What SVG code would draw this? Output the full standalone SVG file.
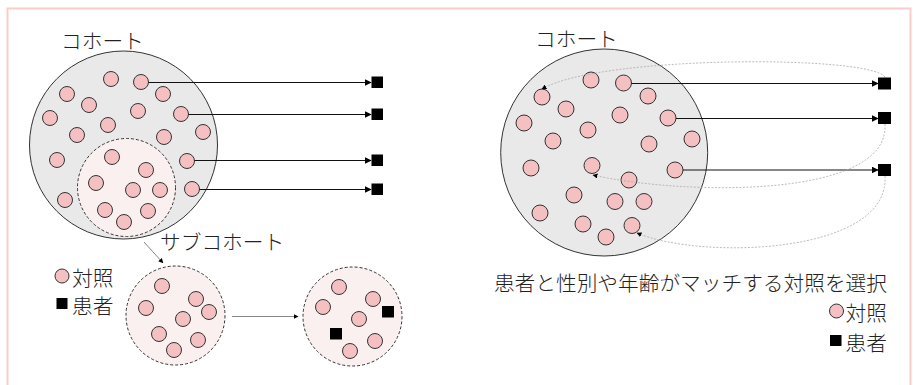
<svg xmlns="http://www.w3.org/2000/svg" width="913" height="385" viewBox="0 0 913 385">
<style>
.pt{fill:#f4c0c2;stroke:#333;stroke-width:1}
.big{fill:#e9e9e9;stroke:#333;stroke-width:1}
.sub{fill:#fbf0f0;stroke:#333;stroke-width:1;stroke-dasharray:3 2}
.pa{fill:#000}
.t{font-family:"Noto Sans CJK JP","Noto Sans",sans-serif;font-size:20.7px;font-weight:300;fill:#222}
.ln{fill:none;stroke:#111;stroke-width:1}
.gl{fill:none;stroke:#888;stroke-width:1}
.dl{fill:none;stroke:#aaa;stroke-width:0.8;stroke-dasharray:2 1.5}
</style>
<defs>
<marker id="ah" viewBox="0 0 10 10" refX="9" refY="5" markerWidth="7" markerHeight="7" markerUnits="userSpaceOnUse" orient="auto">
<path d="M0,0 L10,5 L0,10 z" fill="#000"/>
</marker>
<marker id="ahs" viewBox="0 0 10 10" refX="9" refY="5" markerWidth="5" markerHeight="5" markerUnits="userSpaceOnUse" orient="auto">
<path d="M0,0 L10,5 L0,10 z" fill="#000"/>
</marker>
</defs>
<rect x="7.5" y="8.5" width="903" height="385" fill="#fff" stroke="#f8cecc" stroke-width="2"/>

<g id="cohort-left">
<text class="t" x="61" y="49">コホート</text>
<circle class="big" cx="123.5" cy="145" r="94"/>
<circle class="pt" cx="111" cy="79" r="7.5"/>
<circle class="pt" cx="141" cy="82" r="7.5"/>
<circle class="pt" cx="67" cy="94" r="7.5"/>
<circle class="pt" cx="163" cy="94" r="7.5"/>
<circle class="pt" cx="89" cy="105" r="7.5"/>
<circle class="pt" cx="138" cy="111" r="7.5"/>
<circle class="pt" cx="181" cy="114" r="7.5"/>
<circle class="pt" cx="50" cy="118" r="7.5"/>
<circle class="pt" cx="108" cy="125" r="7.5"/>
<circle class="pt" cx="77" cy="135" r="7.5"/>
<circle class="pt" cx="164" cy="137" r="7.5"/>
<circle class="pt" cx="203" cy="132" r="7.5"/>
<circle class="pt" cx="57" cy="160" r="7.5"/>
<circle class="pt" cx="187" cy="161" r="7.5"/>
<circle class="pt" cx="65" cy="200" r="7.5"/>
<circle class="pt" cx="192" cy="189" r="7.5"/>
</g>
<g id="subcohort-in-left">
<circle class="sub" cx="126.5" cy="187.5" r="49"/>
<circle class="pt" cx="112" cy="157" r="7.5"/>
<circle class="pt" cx="146" cy="170" r="7.5"/>
<circle class="pt" cx="96" cy="183" r="7.5"/>
<circle class="pt" cx="133" cy="190" r="7.5"/>
<circle class="pt" cx="160" cy="190" r="7.5"/>
<circle class="pt" cx="105" cy="210" r="7.5"/>
<circle class="pt" cx="148" cy="211" r="7.5"/>
<circle class="pt" cx="124" cy="222" r="7.5"/>
</g>
<g id="patients-left">
<rect class="pa" x="371.5" y="76.5" width="11.5" height="11.5"/>
<rect class="pa" x="371.5" y="108.5" width="11.5" height="11.5"/>
<rect class="pa" x="371.5" y="154.5" width="11.5" height="11.5"/>
<rect class="pa" x="371.5" y="183.5" width="11.5" height="11.5"/>
</g>
<g id="label-subcohort">
<text class="t" x="160" y="250">サブコホート</text>
</g>
<g id="legend-left">
<circle class="pt" cx="62" cy="276" r="7"/>
<text class="t" x="72" y="286">対照</text>
<rect class="pa" x="56.5" y="298" width="11" height="11"/>
<text class="t" x="72" y="314">患者</text>
</g>
<g id="subcohort-a">
<circle class="sub" cx="175.5" cy="315.5" r="49.5"/>
<circle class="pt" cx="162" cy="286" r="7.5"/>
<circle class="pt" cx="196" cy="299" r="7.5"/>
<circle class="pt" cx="146" cy="308" r="7.5"/>
<circle class="pt" cx="209" cy="312" r="7.5"/>
<circle class="pt" cx="183" cy="319" r="7.5"/>
<circle class="pt" cx="159" cy="334" r="7.5"/>
<circle class="pt" cx="198" cy="340" r="7.5"/>
<circle class="pt" cx="174" cy="350" r="7.5"/>
</g>
<g id="subcohort-b">
<circle class="sub" cx="352.5" cy="316.5" r="49.5"/>
<circle class="pt" cx="339" cy="287" r="7.5"/>
<circle class="pt" cx="373" cy="299" r="7.5"/>
<circle class="pt" cx="323" cy="307" r="7.5"/>
<circle class="pt" cx="359" cy="319" r="7.5"/>
<circle class="pt" cx="375" cy="341" r="7.5"/>
<circle class="pt" cx="350" cy="351" r="7.5"/>
<rect class="pa" x="382" y="306" width="12" height="11.5"/>
<rect class="pa" x="330" y="328" width="12" height="11.5"/>
</g>

<g id="cohort-right">
<text class="t" x="535" y="47">コホート</text>
<circle class="big" cx="604.2" cy="152.5" r="103.5"/>
<circle class="pt" cx="591" cy="80" r="8"/>
<circle class="pt" cx="623.5" cy="83" r="8"/>
<circle class="pt" cx="542" cy="97" r="8"/>
<circle class="pt" cx="648" cy="96" r="8"/>
<circle class="pt" cx="566" cy="109" r="8"/>
<circle class="pt" cx="620" cy="115" r="8"/>
<circle class="pt" cx="668" cy="118" r="8"/>
<circle class="pt" cx="524" cy="123" r="8"/>
<circle class="pt" cx="588" cy="130" r="8"/>
<circle class="pt" cx="553" cy="141" r="8"/>
<circle class="pt" cx="649" cy="144" r="8"/>
<circle class="pt" cx="692" cy="139" r="8"/>
<circle class="pt" cx="531" cy="168" r="8"/>
<circle class="pt" cx="592" cy="165.5" r="8"/>
<circle class="pt" cx="675" cy="170" r="8"/>
<circle class="pt" cx="629" cy="180" r="8"/>
<circle class="pt" cx="574" cy="195" r="8"/>
<circle class="pt" cx="615" cy="201.5" r="8"/>
<circle class="pt" cx="644" cy="201.5" r="8"/>
<circle class="pt" cx="540" cy="213" r="8"/>
<circle class="pt" cx="583" cy="224" r="8"/>
<circle class="pt" cx="632" cy="225.5" r="8"/>
<circle class="pt" cx="606" cy="237" r="8"/>
</g>
<g id="patients-right">
<rect class="pa" x="878" y="77.5" width="13" height="12"/>
<rect class="pa" x="878" y="112" width="13" height="12"/>
<rect class="pa" x="878" y="164" width="13" height="12"/>
</g>
<g id="label-match">
<text class="t" x="887" y="291" text-anchor="end">患者と性別や年齢がマッチする対照を選択</text>
</g>
<g id="legend-right">
<circle class="pt" cx="836.5" cy="311" r="7"/>
<text class="t" x="887" y="321" text-anchor="end">対照</text>
<rect class="pa" x="830" y="335" width="11.5" height="11"/>
<text class="t" x="887" y="351" text-anchor="end">患者</text>
</g>

<g id="connectors">
<path class="ln" d="M148.5,82.5 H371" marker-end="url(#ah)"/>
<path class="ln" d="M188.5,114.5 H371" marker-end="url(#ah)"/>
<path class="ln" d="M194.5,160.5 H371" marker-end="url(#ah)"/>
<path class="ln" d="M199.5,189.5 H371" marker-end="url(#ah)"/>
<path class="gl" d="M144,242 L163,263" marker-end="url(#ahs)"/>
<path class="gl" d="M232,316.5 H298" marker-end="url(#ahs)"/>
<path class="ln" d="M631.5,83.5 H878" marker-end="url(#ah)"/>
<path class="ln" d="M676,118.5 H878" marker-end="url(#ah)"/>
<path class="ln" d="M683,170 H878" marker-end="url(#ah)"/>
<path class="dl" d="M885,77 C870,55 600,55 542,89" marker-end="url(#ahs)"/>
<path class="dl" d="M885,124 C890,200 680,195 593,175" marker-end="url(#ahs)"/>
<path class="dl" d="M885,176 C890,255 700,260 637,233" marker-end="url(#ahs)"/>
</g>
</svg>
